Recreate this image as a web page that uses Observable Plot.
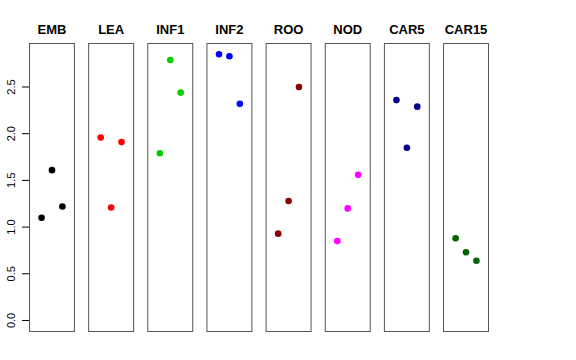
<!DOCTYPE html>
<html>
<head>
<meta charset="utf-8">
<script src="https://cdn.jsdelivr.net/npm/d3@7"></script>
<script src="https://cdn.jsdelivr.net/npm/@observablehq/plot@0.6"></script>
<style>
  body { margin: 0; background: #fff; }
  #chart svg { display: block; }
</style>
</head>
<body>
<div id="chart"></div>
<script>
const groups = ["EMB", "LEA", "INF1", "INF2", "ROO", "NOD", "CAR5", "CAR15"];
const colors = ["#000000", "#FF0000", "#00CD00", "#0000FF", "#8B0000", "#FF00FF", "#00008B", "#006400"];
const positions = [1, 2, 3];
const EMB   = [1.10, 1.61, 1.22];
const LEA   = [1.96, 1.21, 1.91];
const INF1  = [1.79, 2.79, 2.44];
const INF2  = [2.85, 2.83, 2.32];
const ROO   = [0.93, 1.28, 2.50];
const NOD   = [0.85, 1.20, 1.56];
const CAR5  = [2.36, 1.85, 2.29];
const CAR15 = [0.88, 0.73, 0.64];
const yTicks = [0, 0.5, 1, 1.5, 2, 2.5];

const series = [EMB, LEA, INF1, INF2, ROO, NOD, CAR5, CAR15];
const data = groups.flatMap((g, i) =>
  series[i].map((v, j) => ({group: g, pos: positions[j], value: v, color: colors[i]}))
);

const chart = Plot.plot({
  width: 576,
  height: 360,
  marginLeft: 29,
  marginRight: 88,
  marginTop: 43,
  marginBottom: 29,
  style: {fontFamily: "Liberation Sans, Arial, sans-serif", background: "#fff"},
  fx: {domain: groups, paddingInner: 0.24, paddingOuter: 0, round: false, label: null},
  x: {domain: [-0.16, 4.16], axis: null},
  y: {domain: [-0.118, 2.966], axis: null},
  marks: [
    Plot.frame({stroke: "#555", strokeWidth: 1}),
    Plot.axisFx({anchor: "top", tickSize: 0, tickPadding: 10, label: null,
      fontSize: 13, fontWeight: "bold", fill: "#000"}),
    Plot.axisY(yTicks, {anchor: "left", tickSize: 7, tickPadding: 8,
      tickRotate: -90, tickFormat: d3.format(".1f"), label: null,
      fontSize: 11, fill: "#000", stroke: "#000"}),
    Plot.dot(data, {fx: "group", x: "pos", y: "value", fill: "color", r: 3.3, stroke: null})
  ]
});
document.getElementById("chart").appendChild(chart);
</script>
</body>
</html>
